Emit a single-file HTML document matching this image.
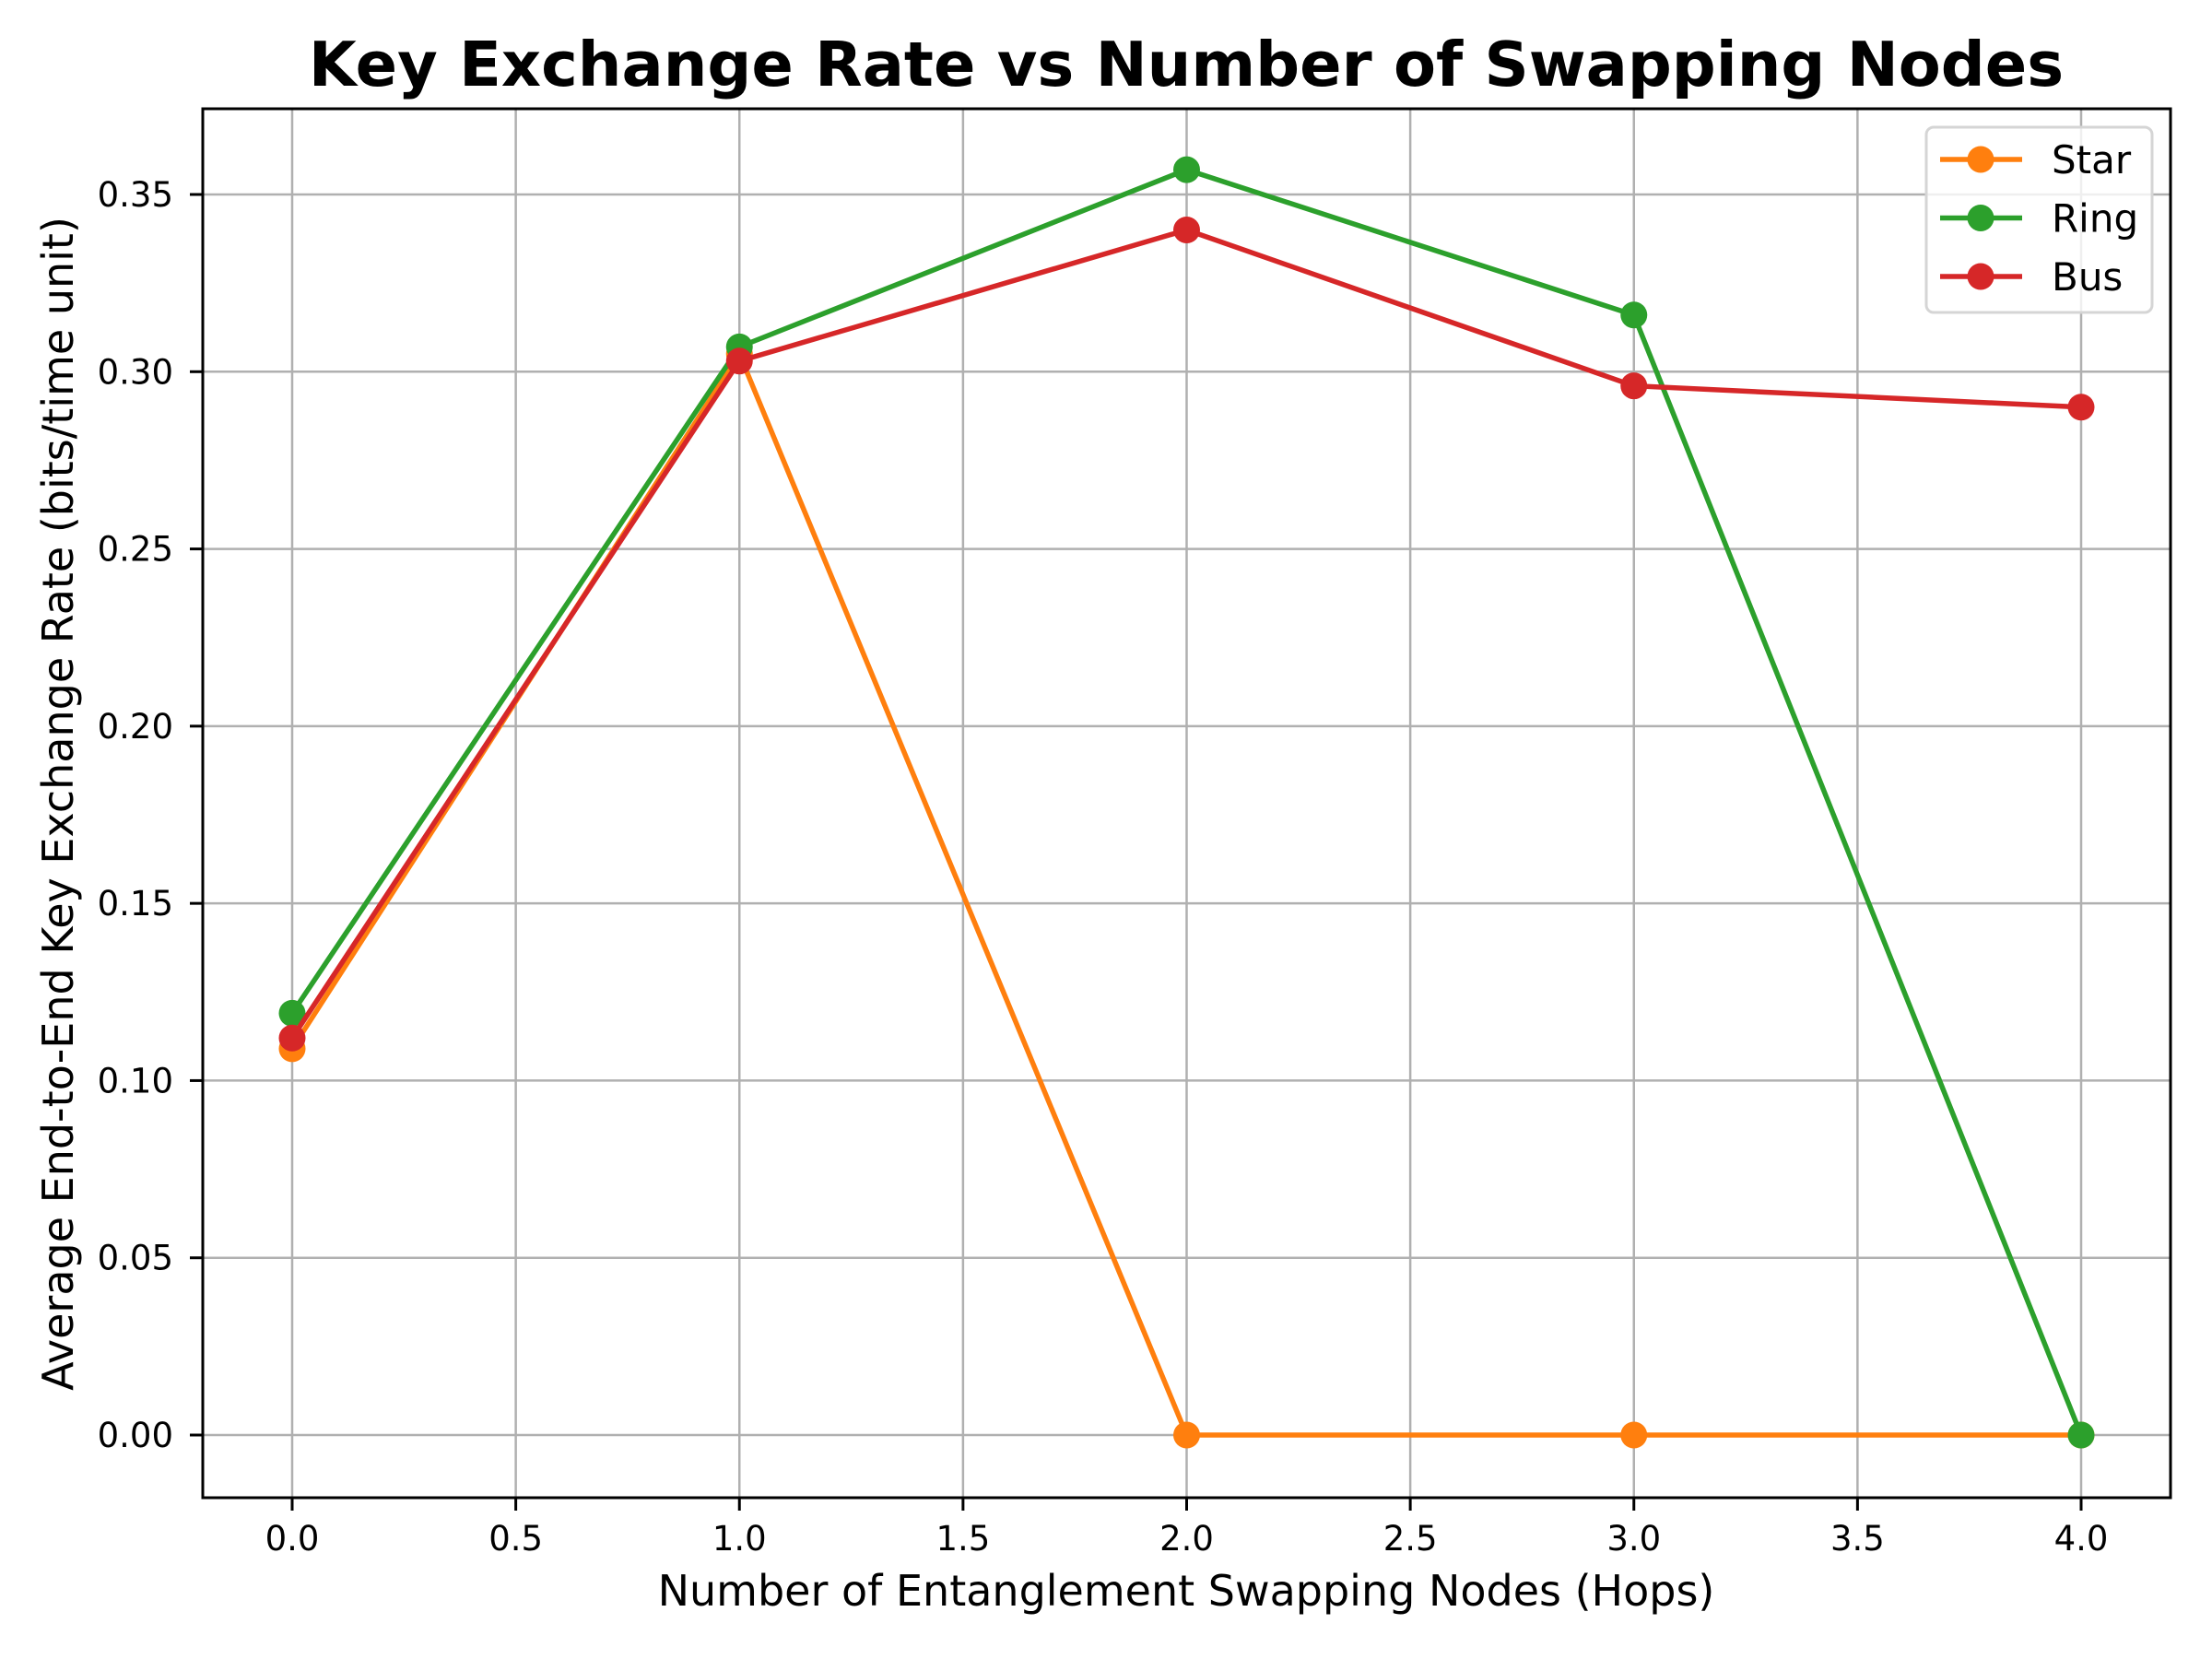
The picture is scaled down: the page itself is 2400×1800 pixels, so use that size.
<!DOCTYPE html>
<html><head><meta charset="utf-8"><style>
body{margin:0;background:#fff}
svg{display:block;font-family:"DejaVu Sans","Liberation Sans",sans-serif}
</style></head><body>
<svg id="chart" width="2400" height="1800" viewBox="0 0 2400 1800" xmlns="http://www.w3.org/2000/svg">
<rect width="2400" height="1800" fill="#fff"/>
<text x="1287" y="93" text-anchor="middle" font-size="67" font-weight="bold">Key Exchange Rate vs Number of Swapping Nodes</text>
<g id="grid"></g>
<g id="series"></g>
<rect x="220" y="118" width="2135" height="1507" fill="none" stroke="#000" stroke-width="3"/>
<g id="ticks"></g>
<text x="1287" y="1742" text-anchor="middle" font-size="46">Number of Entanglement Swapping Nodes (Hops)</text>
<text transform="translate(79,872) rotate(-90)" text-anchor="middle" font-size="46">Average End-to-End Key Exchange Rate (bits/time unit)</text>
<g id="legend">
<rect x="2090" y="138" width="245" height="201" rx="8" fill="#fff" fill-opacity="0.8" stroke="#d5d5d5" stroke-width="3"/>
</g>
</svg>
<script>
const xTicks=[0,0.5,1,1.5,2,2.5,3,3.5,4];
const xTickLabels=["0.0","0.5","1.0","1.5","2.0","2.5","3.0","3.5","4.0"];
const yTicks=[0,0.05,0.1,0.15,0.2,0.25,0.3,0.35];
const yTickLabels=["0.00","0.05","0.10","0.15","0.20","0.25","0.30","0.35"];
const hops=[0,1,2,3,4];
const starValues=[0.109,0.305,0,0,0];
const ringValues=[0.119,0.307,0.357,0.316,0];
const busValues=[0.112,0.303,0.340,0.296,0.290];
const seriesNames=["Star","Ring","Bus"];
const seriesColors=["#ff7f0e","#2ca02c","#d62728"];
const NS="http://www.w3.org/2000/svg";
function X(v){return 317+v*485.25;}
function Y(v){return 1557-v*3845.7;}
function mk(t,a,p){const e=document.createElementNS(NS,t);for(const k in a)e.setAttribute(k,a[k]);p.appendChild(e);return e;}
const grid=document.getElementById('grid'),ticks=document.getElementById('ticks');
xTicks.forEach((v,i)=>{
  const g=mk('line',{x1:X(v),x2:X(v),y1:118,y2:1625,stroke:'#b0b0b0','stroke-width':2.5},grid);
  
  
  const t=mk('line',{x1:X(v),x2:X(v),y1:1625,y2:1639,stroke:'#000','stroke-width':3},ticks);
  
  
  const l=mk('text',{x:X(v),y:1682,'text-anchor':'middle','font-size':37},ticks);
  l.textContent=xTickLabels[i];
  
  
});
yTicks.forEach((v,i)=>{
  const g=mk('line',{x1:220,x2:2355,y1:Y(v),y2:Y(v),stroke:'#b0b0b0','stroke-width':2.5},grid);
  
  
  const t=mk('line',{x1:206,x2:220,y1:Y(v),y2:Y(v),stroke:'#000','stroke-width':3},ticks);
  
  
  const l=mk('text',{x:188,y:Y(v)+13,'text-anchor':'end','font-size':37},ticks);
  l.textContent=yTickLabels[i];
  
  
});
const sg=document.getElementById('series');
[starValues,ringValues,busValues].forEach((vals,s)=>{
  const pts=vals.map((v,i)=>X(hops[i])+','+Y(v)).join(' ');
  const pl=mk('polyline',{points:pts,fill:'none',stroke:seriesColors[s],'stroke-width':5.5,'stroke-linejoin':'round'},sg);
  
  
  vals.forEach((v,i)=>{
    const c=mk('circle',{cx:X(hops[i]),cy:Y(v),r:14.5,fill:seriesColors[s]},sg);
    
    
  });
});
const lg=document.getElementById('legend');
seriesNames.forEach((n,s)=>{
  const y=173+s*63.5;
  const l=mk('line',{x1:2105,x2:2194,y1:y,y2:y,stroke:seriesColors[s],'stroke-width':5.5},lg);
  
  
  const c=mk('circle',{cx:2149,cy:y,r:14.5,fill:seriesColors[s]},lg);
  
  
  const t=mk('text',{x:2226,y:y+15,'font-size':42},lg);
  t.textContent=n;
  
  
});
</script>
</body></html>
